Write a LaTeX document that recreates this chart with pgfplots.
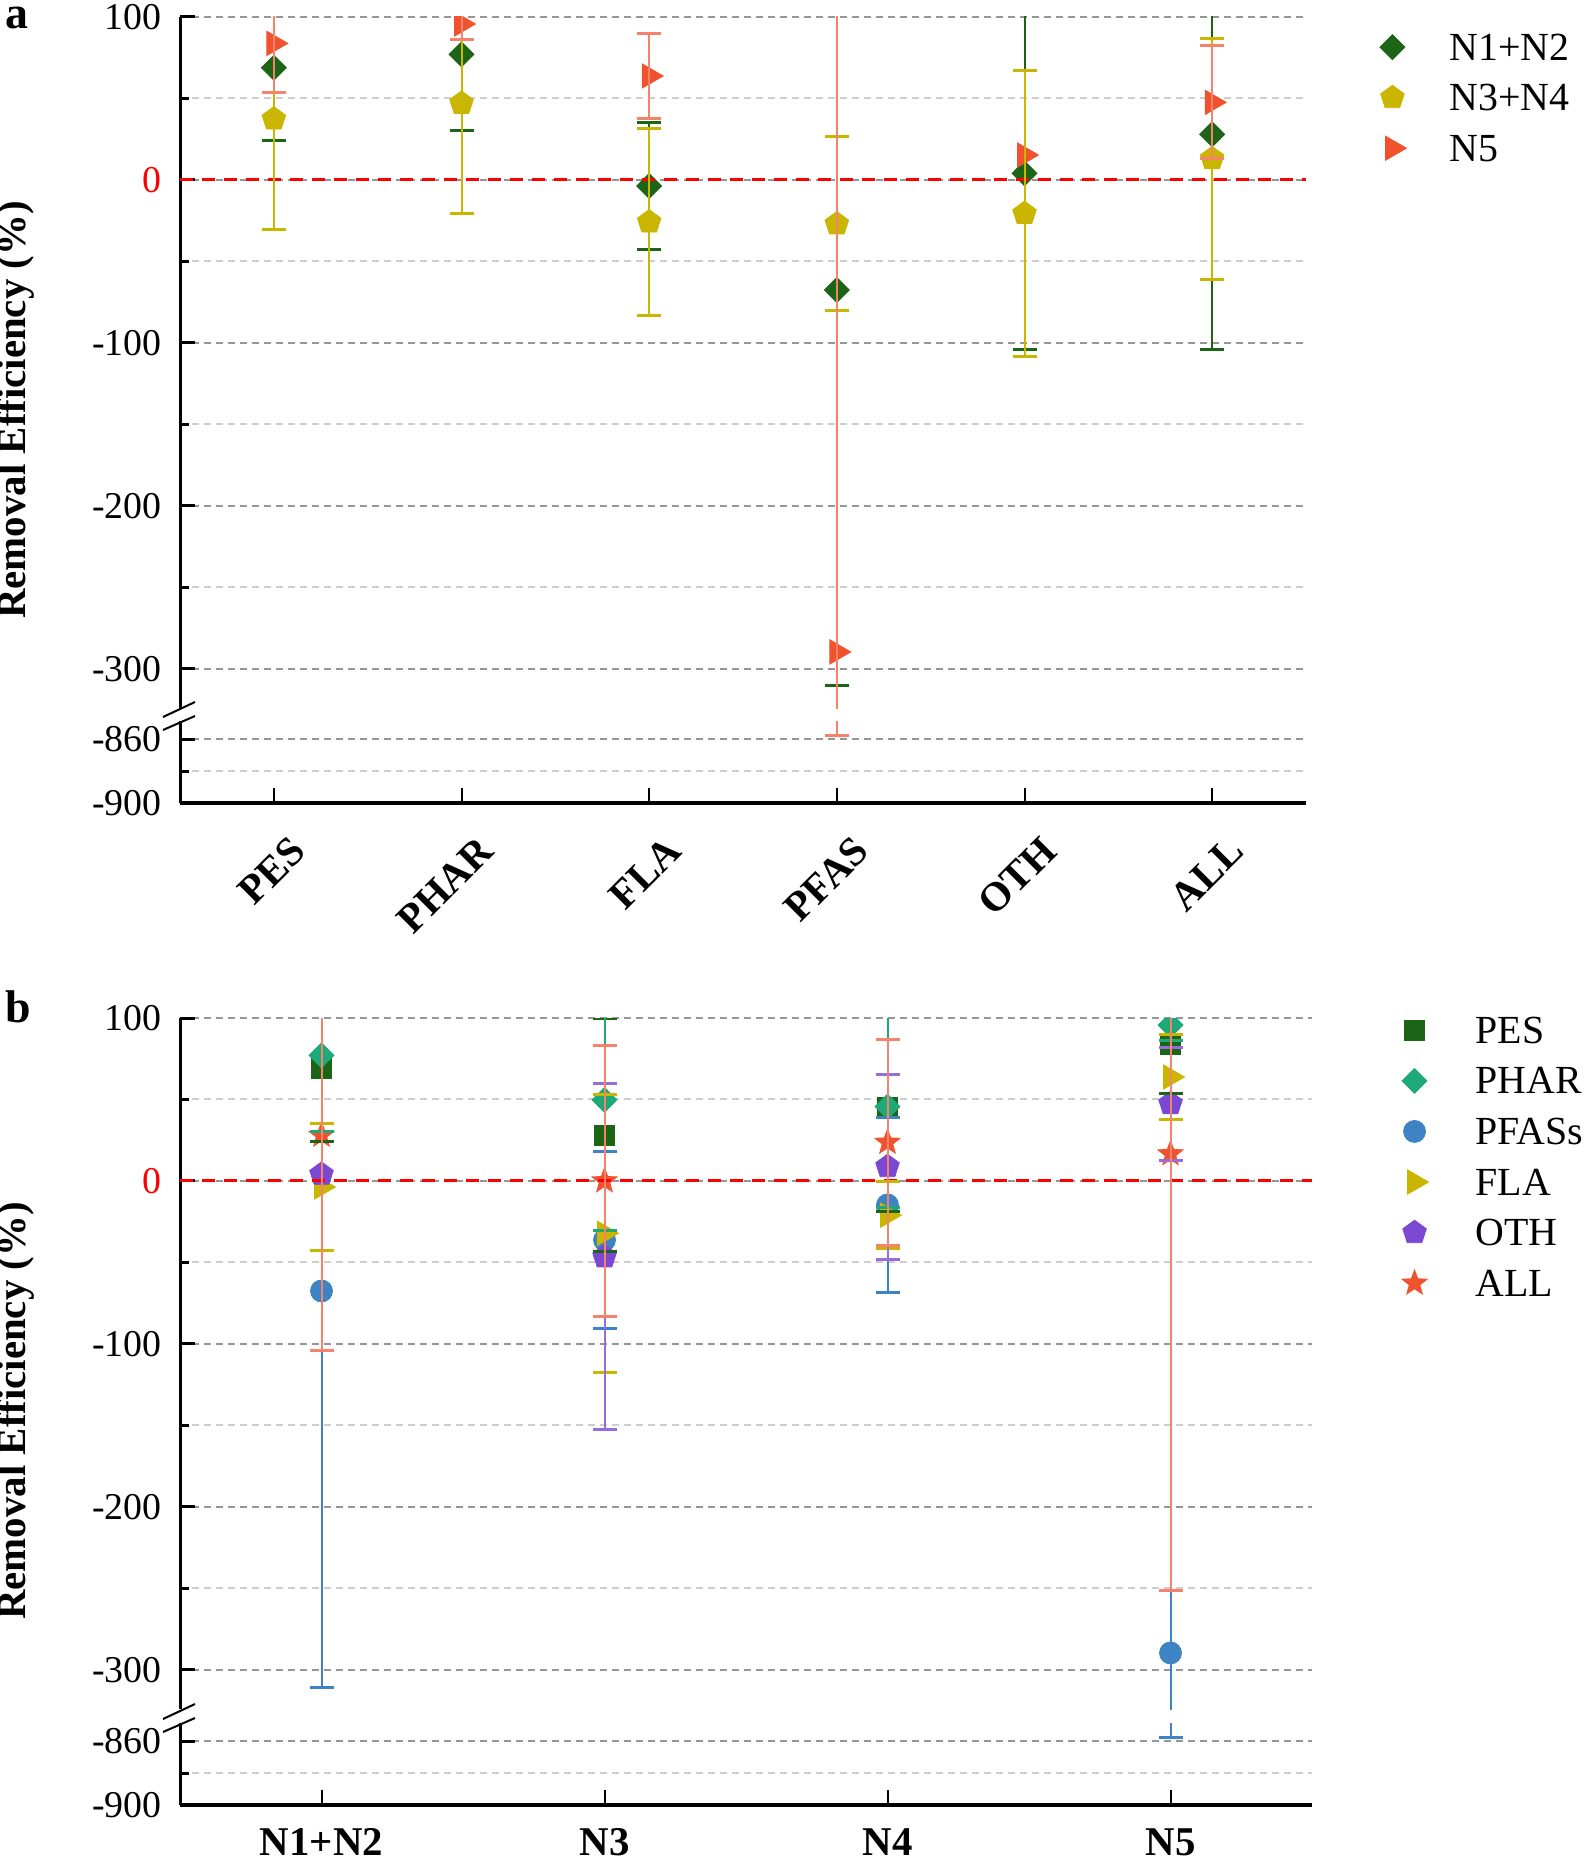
\documentclass[border=0pt]{standalone}
\usepackage{pgfplots}
\pgfplotsset{compat=1.18}
\usepackage{pgfplotstable}
\usepackage{fontspec}
\setmainfont{Liberation Serif}

\definecolor{cgreen}{RGB}{28,100,22}
\definecolor{cyellow}{RGB}{202,182,0}
\definecolor{corange}{RGB}{240,82,45}
\definecolor{csalmon}{RGB}{244,130,108}
\definecolor{cteal}{RGB}{30,170,120}
\definecolor{cblue}{RGB}{62,132,196}
\definecolor{cpurple}{RGB}{122,72,210}
\definecolor{cpurplel}{RGB}{150,110,220}
\definecolor{gridmaj}{RGB}{150,150,150}
\definecolor{gridmin}{RGB}{205,205,205}

\pgfdeclareplotmark{fstar}{%
  \pgfpathmoveto{\pgfqpointpolar{90}{\pgfplotmarksize}}%
  \pgfpathlineto{\pgfqpointpolar{126}{0.42\pgfplotmarksize}}%
  \pgfpathlineto{\pgfqpointpolar{162}{\pgfplotmarksize}}%
  \pgfpathlineto{\pgfqpointpolar{198}{0.42\pgfplotmarksize}}%
  \pgfpathlineto{\pgfqpointpolar{234}{\pgfplotmarksize}}%
  \pgfpathlineto{\pgfqpointpolar{270}{0.42\pgfplotmarksize}}%
  \pgfpathlineto{\pgfqpointpolar{306}{\pgfplotmarksize}}%
  \pgfpathlineto{\pgfqpointpolar{342}{0.42\pgfplotmarksize}}%
  \pgfpathlineto{\pgfqpointpolar{18}{\pgfplotmarksize}}%
  \pgfpathlineto{\pgfqpointpolar{54}{0.42\pgfplotmarksize}}%
  \pgfpathclose
  \pgfusepathqfillstroke}

% ---------- panel a: series by treatment, x = category ----------
\pgfplotstableread{
x y e
1 68.9 44.4
2 77.1 46.8
3 -3.7 39.0
4 -67.5 243.0
5 4.1 108.4
6 28.0 132.3
}\aNa
\pgfplotstableread{
x y e
1 37.4 67.7
2 47.0 67.7
3 -25.8 57.3
4 -27.0 53.4
5 -20.6 88.0
6 13.0 74.0
}\aNb
\pgfplotstableread{
x y e
1 83.8 30.0
2 95.7 9.4
3 63.8 25.8
4 -289.6 568.4
6 47.6 34.6
}\aNc
\pgfplotstableread{
x y
5 15.3
}\aNcOTH

% ---------- panel b: series by category, x = treatment ----------
\pgfplotstableread{
x y e
1 68.9 44.4
2 28.2 71.6
3 45.0 63.8
4 83.8 30.0
}\bPES
\pgfplotstableread{
x y e
1 77.1 46.8
2 49.7 80.1
3 45.6 62.0
4 95.7 9.4
}\bPHAR
\pgfplotstableread{
x y e
1 -67.5 243.0
2 -36.2 54.2
3 -14.7 53.5
4 -289.6 568.4
}\bPFAS
\pgfplotstableread{
x y e
1 -3.7 39.0
2 -32.1 85.3
3 -21.0 20.5
4 63.8 25.8
}\bFLA
\pgfplotstableread{
x y e
1 4.1 108.4
2 -46.6 106.2
3 8.8 56.8
4 47.4 34.6
}\bOTH
\pgfplotstableread{
x y e
1 28.0 132.3
2 0.0 83.4
3 23.7 63.4
4 16.6 268.0
}\bALL

\pgfplotsset{
  panel/.style={
    scale only axis, enlargelimits=false, clip marker paths=true,
    axis y line*=left, tick align=inside,
    axis line style={line width=1.5bp, black},
    every tick/.style={black, line width=1.5bp},
    major tick length=7.5bp, minor tick length=4.5bp,
    ymajorgrids, yminorgrids,
    major grid style={gridmaj, line width=1bp, dash pattern=on 3.5bp off 2.5bp},
    minor grid style={gridmin, line width=1bp, dash pattern=on 3.5bp off 2.5bp},
    yticklabel style={font=\fontsize{19}{20}\selectfont, inner sep=0pt, xshift=-9bp},
  },
  upper/.style={panel, axis x line=none, xtick=\empty, ymin=-324, ymax=100, height=345.5bp,
    ytick={-300,-200,-100,0,100}, yticklabels={-300,-200,-100,{\color{red}0},100},
    minor ytick={50,-50,-150,-250}},
  lower/.style={panel, axis x line*=bottom, ymin=-900, ymax=-849, height=40.8bp,
    x axis line style={line width=2bp},
    xtick style={line width=1bp},
    ytick={-900,-860}, yticklabels={-900,-860}, minor ytick={-880}},
  ebar/.style={forget plot, draw=none, mark=none,
    error bars/.cd, y dir=both, y explicit,
    error bar style={draw=#1, line width=1bp},
    error mark options={rotate=90, mark size=6bp, line width=1.5bp, draw=#1}},
  mdia/.style={only marks, mark=square*, mark size=4.4bp, mark options={rotate=45, draw=#1, fill=#1}},
  mpent/.style={only marks, mark=pentagon*, mark size=6.2bp, mark options={draw=#1, fill=#1}},
  mtri/.style={only marks, mark=triangle*, mark size=7bp, mark options={rotate=-90, draw=#1, fill=#1}},
  msq/.style={only marks, mark=square*, mark size=5bp, mark options={draw=#1, fill=#1}},
  mcirc/.style={only marks, mark=*, mark size=5.5bp, mark options={draw=#1, fill=#1}},
  mstar/.style={only marks, mark=fstar, mark size=6.6bp, mark options={draw=#1, fill=#1}},
  zeroline/.style={forget plot, red, line width=1.5bp, dash pattern=on 6.5bp off 4.5bp},
  mylegend/.style={legend cell align=left,
    legend image code/.code={\draw[##1] plot coordinates {(0bp,6.5bp)};},
    legend style={draw=none, fill=none, inner sep=0pt, outer sep=0pt, anchor=north west,
      nodes={inner sep=0pt, text height=14bp, text depth=4bp, anchor=base west,
        font=\fontsize{20}{22}\selectfont}}},
}

\begin{document}
\begin{tikzpicture}
\path[use as bounding box] (0,0) rectangle (795.5bp,-928bp);

% ================= panel a =================
\begin{axis}[upper, at={(90bp,-8.5bp)}, anchor=north west, width=563bp,
  xmin=0.5, xmax=6.5, mylegend,
  legend style={at={(1.0657,0.978)}, column sep=21.5bp, row sep=7.25bp}]
\addplot[mdia=cgreen] table[x=x,y=y] {\aNa};
\addlegendentry{N1+N2}
\addplot[mpent=cyellow] table[x=x,y=y] {\aNb};
\addlegendentry{N3+N4}
\addplot[mtri=corange] table[x=x,y=y] {\aNc};
\addlegendentry{N5}
\addplot[mtri=corange, forget plot] table[x=x,y=y] {\aNcOTH};
\addplot[zeroline] coordinates {(0.5,0) (6.5,0)};
\addplot[ebar=cgreen] table[x=x,y=y,y error=e] {\aNa};
\addplot[ebar=cyellow] table[x=x,y=y,y error=e] {\aNb};
\addplot[ebar=csalmon] table[x=x,y=y,y error=e] {\aNc};
\end{axis}

\begin{axis}[lower, at={(90bp,-401.5bp)}, anchor=south west, width=563bp,
  xmin=0.5, xmax=6.5, xtick={1,2,3,4,5,6},
  xticklabels={PES,PHAR,FLA,PFAS,OTH,ALL},
  xticklabel style={font=\bfseries\fontsize{20.5}{22}\selectfont, inner sep=0pt,
    xshift=7.5bp, yshift=-15.5bp, rotate=45, anchor=north east}]
\addplot[ebar=cgreen] table[x=x,y=y,y error=e] {\aNa};
\addplot[ebar=cyellow] table[x=x,y=y,y error=e] {\aNb};
\addplot[ebar=csalmon] table[x=x,y=y,y error=e] {\aNc};
\end{axis}

\draw[line width=1bp] (81.5bp,-358.5bp) -- (97.5bp,-351bp);
\draw[line width=1bp] (81.5bp,-365bp) -- (97.5bp,-358bp);

\node[anchor=base west, inner sep=0pt, font=\bfseries\fontsize{23}{24}\selectfont] at (2.5bp,-14bp) {a};
\node[rotate=90, inner sep=0pt, font=\bfseries\fontsize{20.5}{22}\selectfont] at (8bp,-205bp) {Removal Efficiency (\%)};

% ================= panel b =================
\begin{axis}[upper, at={(90bp,-509bp)}, anchor=north west, width=566bp,
  xmin=0.5, xmax=4.5, mylegend,
  legend style={at={(1.0795,1.004)}, column sep=23.5bp, row sep=7.3bp}]
\addplot[msq=cgreen] table[x=x,y=y] {\bPES};
\addlegendentry{PES}
\addplot[mdia=cteal] table[x=x,y=y] {\bPHAR};
\addlegendentry{PHAR}
\addplot[mcirc=cblue] table[x=x,y=y] {\bPFAS};
\addlegendentry{PFASs}
\addplot[mtri=cyellow] table[x=x,y=y] {\bFLA};
\addlegendentry{FLA}
\addplot[mpent=cpurple] table[x=x,y=y] {\bOTH};
\addlegendentry{OTH}
\addplot[mstar=corange] table[x=x,y=y] {\bALL};
\addlegendentry{ALL}
\addplot[zeroline] coordinates {(0.5,0) (4.5,0)};
\addplot[ebar=cgreen] table[x=x,y=y,y error=e] {\bPES};
\addplot[ebar=cteal] table[x=x,y=y,y error=e] {\bPHAR};
\addplot[ebar=cblue] table[x=x,y=y,y error=e] {\bPFAS};
\addplot[ebar=cyellow] table[x=x,y=y,y error=e] {\bFLA};
\addplot[ebar=cpurplel] table[x=x,y=y,y error=e] {\bOTH};
\addplot[ebar=csalmon] table[x=x,y=y,y error=e] {\bALL};
\end{axis}

\begin{axis}[lower, at={(90bp,-902.5bp)}, anchor=south west, width=566bp,
  xmin=0.5, xmax=4.5, xtick={1,2,3,4},
  xticklabels={N1+N2,N3,N4,N5},
  xticklabel style={font=\bfseries\fontsize{20.5}{22}\selectfont, inner sep=0pt,
    anchor=north, yshift=-11.5bp}]
\addplot[ebar=cblue] table[x=x,y=y,y error=e] {\bPFAS};
\addplot[ebar=csalmon] table[x=x,y=y,y error=e] {\bALL};
\end{axis}

\draw[line width=1bp] (81.5bp,-859.5bp) -- (97.5bp,-852bp);
\draw[line width=1bp] (81.5bp,-866bp) -- (97.5bp,-859bp);

\node[anchor=base west, inner sep=0pt, font=\bfseries\fontsize{23}{24}\selectfont] at (2.5bp,-511bp) {b};
\node[rotate=90, inner sep=0pt, font=\bfseries\fontsize{20.5}{22}\selectfont] at (8bp,-705.5bp) {Removal Efficiency (\%)};
\end{tikzpicture}
\end{document}
